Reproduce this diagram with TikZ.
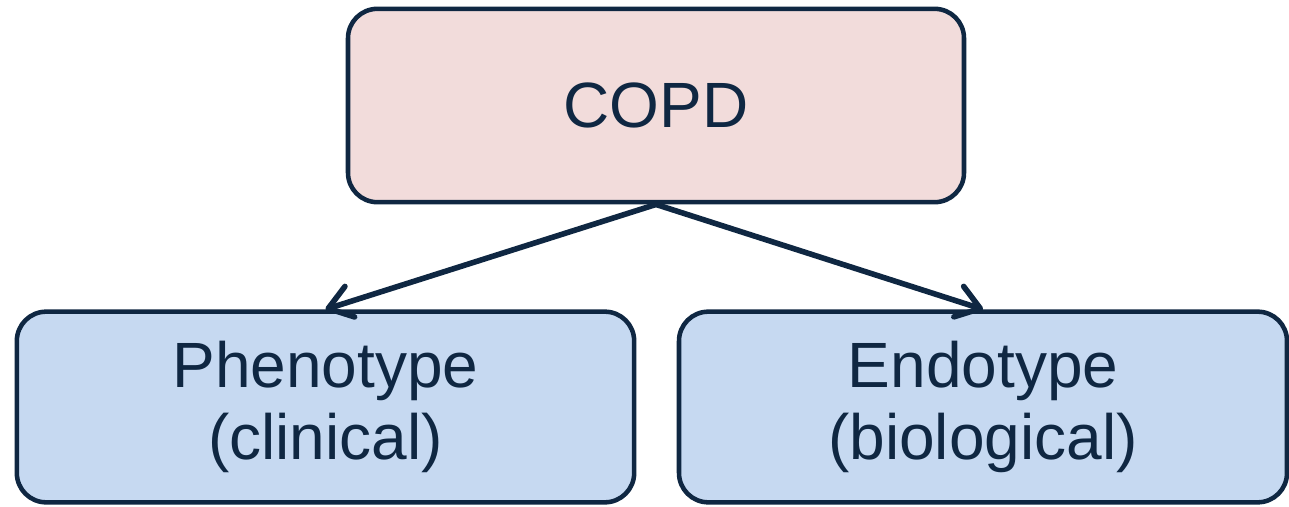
\documentclass[tikz,border=0pt]{standalone}
\usepackage{fontspec}
\setmainfont{Liberation Sans}
\usetikzlibrary{arrows.meta}
\definecolor{navy}{HTML}{0F2742}
\definecolor{pinkfill}{HTML}{F2DCDB}
\definecolor{bluefill}{HTML}{C6D9F1}
\tikzset{
  box/.style={draw=navy, line width=3.4pt, rounded corners=22pt, text=navy,
    font=\fontsize{48}{58}\selectfont, align=center, inner sep=0pt},
  link/.style={draw=navy, line width=4.2pt, line cap=round,
    -{Straight Barb[length=17pt, width=24pt, round]}}
}
\begin{document}
\begin{tikzpicture}[x=0.75pt, y=-0.75pt]
      \useasboundingbox (0,0) rectangle (1289,507);
      \node[box, fill=pinkfill, minimum width=462pt, minimum height=145pt]
        (copd) at (656,105.5) {COPD};
      \node[box, fill=bluefill, minimum width=463pt, minimum height=143pt]
        (pheno) at (325.5,407) {\raisebox{-4pt}{Phenotype}\\(clinical)};
      \node[box, fill=bluefill, minimum width=456pt, minimum height=143pt]
        (endo) at (983,407) {\raisebox{-4pt}{Endotype}\\(biological)};
      \begin{scope}[link]
        \draw (copd.south) to (pheno.north);
        \draw (copd.south) to (endo.north);
      \end{scope}
    \end{tikzpicture}
\end{document}
